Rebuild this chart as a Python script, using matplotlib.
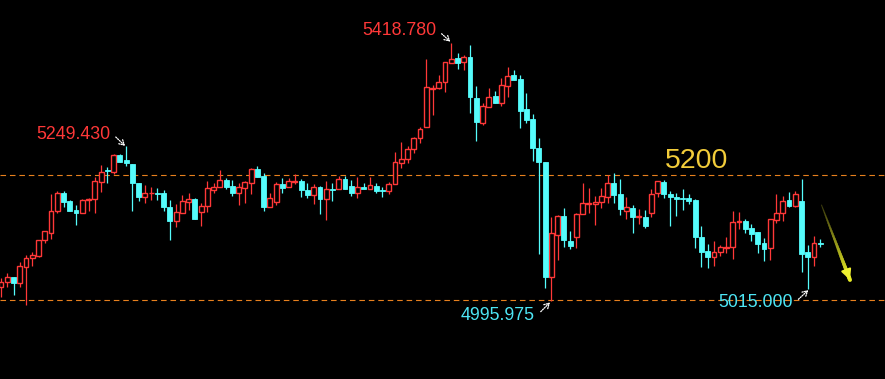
import matplotlib
matplotlib.use("Agg")
import matplotlib.pyplot as plt
import numpy as np
from matplotlib.collections import LineCollection

# ---- data ----
opens = [5019.4, 5027.6, 5035.7, 5024.9, 5052.1, 5065.9, 5069.6, 5095.8, 5106.8, 5143.3,
         5173.2, 5159.7, 5144.9, 5139.5, 5161.3, 5162.4, 5190.3, 5210.4, 5207.6, 5235.0,
         5226.8, 5220.2, 5189.6, 5166.7, 5172.3, 5173.2, 5172.3, 5149.3, 5127.4, 5140.5,
         5158.5, 5162.4, 5142.1, 5152.0, 5177.7, 5182.1, 5194.0, 5184.2, 5173.2, 5181.4,
         5189.6, 5211.6, 5200.6, 5150.3, 5158.5, 5187.5, 5183.1, 5190.8, 5192.4, 5177.7,
         5169.5, 5183.1, 5162.4, 5179.3, 5178.8, 5195.2, 5184.2, 5173.2, 5182.1, 5179.8,
         5184.2, 5177.7, 5176.5, 5187.0, 5222.4, 5227.9, 5244.3, 5262.3, 5280.3, 5343.0,
         5345.1, 5354.0, 5385.1, 5393.3, 5387.7, 5394.9, 5327.8, 5287.8, 5314.0, 5331.5,
         5320.6, 5348.4, 5365.9, 5358.9, 5309.8, 5293.9, 5245.9, 5223.0, 5035.7, 5104.0,
         5135.1, 5094.2, 5100.2, 5137.9, 5154.8, 5154.8, 5158.5, 5166.7, 5188.6, 5170.6,
         5143.8, 5147.7, 5133.0, 5133.0, 5139.5, 5172.3, 5190.3, 5171.6, 5166.2, 5164.6,
         5165.1, 5161.3, 5101.2, 5077.8, 5068.5, 5075.7, 5082.7, 5083.9, 5124.8, 5126.9,
         5115.0, 5108.4, 5090.4, 5082.2, 5128.6, 5139.5, 5161.3, 5152.0, 5159.7, 5075.7,
         5068.5, 5091.4]
highs = [5033.6, 5041.3, 5035.7, 5059.8, 5071.3, 5075.7, 5095.8, 5110.6, 5170.6, 5176.0,
         5176.0, 5161.3, 5153.1, 5162.4, 5164.1, 5199.4, 5218.6, 5214.8, 5236.6, 5236.6,
         5249.43, 5220.2, 5189.6, 5185.9, 5182.1, 5180.5, 5177.7, 5161.3, 5154.3, 5169.5,
         5172.3, 5164.1, 5155.9, 5192.4, 5189.6, 5210.4, 5196.8, 5194.0, 5188.6, 5192.9,
         5213.2, 5217.0, 5206.0, 5173.2, 5190.3, 5196.8, 5196.8, 5203.9, 5195.2, 5189.6,
         5187.5, 5184.2, 5192.4, 5189.6, 5200.6, 5200.6, 5194.0, 5199.4, 5189.6, 5198.5,
         5188.6, 5183.1, 5191.3, 5239.9, 5255.8, 5249.7, 5264.9, 5280.3, 5391.6, 5349.6,
         5365.9, 5387.7, 5418.78, 5401.4, 5398.7, 5415.0, 5347.9, 5320.6, 5344.2, 5339.7,
         5360.5, 5378.5, 5374.1, 5365.9, 5336.0, 5301.6, 5262.3, 5223.0, 5134.0, 5136.7,
         5148.7, 5110.6, 5139.5, 5188.6, 5180.5, 5167.8, 5180.5, 5202.2, 5205.0, 5195.7,
         5166.2, 5153.1, 5146.1, 5144.9, 5178.8, 5192.4, 5194.0, 5176.0, 5173.2, 5179.3,
         5171.1, 5162.4, 5118.7, 5089.3, 5094.2, 5087.6, 5100.2, 5143.3, 5142.1, 5129.7,
         5122.0, 5108.4, 5098.6, 5129.7, 5171.1, 5167.8, 5173.9, 5176.5, 5195.7, 5087.6,
         5102.4, 5097.5]
lows = [5003.0, 5018.4, 5005.8, 5018.4, 4989.4, 5053.3, 5067.5, 5090.4, 5097.5, 5139.5,
        5150.3, 5143.8, 5120.4, 5139.5, 5143.3, 5140.5, 5174.9, 5189.6, 5203.4, 5224.0,
        5217.0, 5143.8, 5159.7, 5155.9, 5161.3, 5161.3, 5143.3, 5095.8, 5117.6, 5140.5,
        5144.9, 5130.2, 5118.7, 5142.1, 5172.3, 5182.1, 5178.8, 5168.3, 5153.1, 5155.9,
        5170.6, 5199.4, 5143.3, 5150.3, 5153.1, 5173.2, 5183.1, 5187.5, 5166.7, 5165.1,
        5154.8, 5138.4, 5128.6, 5159.7, 5178.8, 5179.3, 5167.8, 5164.1, 5179.8, 5179.8,
        5172.3, 5166.7, 5171.1, 5187.0, 5214.2, 5222.4, 5238.7, 5255.1, 5280.3, 5300.4,
        5342.5, 5338.6, 5385.1, 5375.7, 5374.1, 5304.2, 5258.4, 5284.1, 5314.0, 5319.6,
        5315.2, 5330.4, 5357.7, 5278.7, 5287.8, 5225.6, 5072.9, 5016.7, 4995.975, 5063.1,
        5084.9, 5081.1, 5083.2, 5137.9, 5140.5, 5120.4, 5147.7, 5156.9, 5155.9, 5136.7,
        5129.4, 5107.8, 5122.0, 5116.0, 5134.0, 5166.7, 5165.1, 5119.2, 5135.6, 5144.9,
        5154.3, 5082.2, 5052.1, 5050.5, 5053.3, 5070.1, 5074.0, 5064.7, 5113.8, 5107.8,
        5094.2, 5075.0, 5061.9, 5063.1, 5124.1, 5127.4, 5149.3, 5149.3, 5043.9, 5015.0,
        5053.3, 5083.9]
closes = [5027.6, 5035.7, 5024.9, 5053.3, 5066.8, 5071.3, 5095.8, 5110.6, 5143.3, 5173.2,
          5158.5, 5143.8, 5139.5, 5161.3, 5162.9, 5192.4, 5207.6, 5208.3, 5235.0, 5224.0,
          5222.4, 5188.6, 5166.7, 5172.3, 5173.2, 5171.6, 5149.3, 5127.4, 5141.2, 5159.7,
          5162.4, 5130.2, 5151.5, 5180.5, 5182.1, 5194.0, 5183.1, 5173.2, 5182.1, 5190.3,
          5211.6, 5199.4, 5150.3, 5164.1, 5187.0, 5181.4, 5192.4, 5192.4, 5177.7, 5169.5,
          5182.1, 5162.9, 5178.8, 5177.7, 5195.2, 5179.3, 5173.2, 5182.1, 5179.8, 5185.4,
          5176.5, 5176.0, 5187.5, 5223.0, 5227.9, 5244.3, 5262.3, 5277.0, 5345.8, 5345.1,
          5354.0, 5386.7, 5391.6, 5386.1, 5394.9, 5330.4, 5289.5, 5315.2, 5330.4, 5319.6,
          5349.6, 5364.3, 5357.7, 5307.5, 5292.3, 5246.9, 5224.0, 5035.7, 5106.8, 5135.1,
          5095.8, 5086.0, 5138.4, 5155.9, 5156.9, 5158.5, 5167.8, 5188.6, 5169.5, 5146.1,
          5149.3, 5132.7, 5135.1, 5119.2, 5171.1, 5192.4, 5170.6, 5166.7, 5162.9, 5162.9,
          5159.7, 5101.2, 5076.7, 5068.5, 5075.7, 5083.9, 5083.9, 5124.8, 5126.4, 5113.8,
          5105.6, 5088.8, 5081.1, 5129.7, 5139.5, 5159.7, 5151.5, 5171.1, 5072.9, 5068.5,
          5090.4, 5088.8]

line_upper = 5202.0
line_lower = 4997.6
marks = [("5418.780", 5418.78), ("5249.430", 5249.43), ("4995.975", 4995.975), ("5015.000", 5015.0)]

# ---- drawing ----
RED = "#FF3838"
CYAN = "#55FCFC"
BG = "black"

fig = plt.figure(figsize=(8.85, 3.79), dpi=100, facecolor=BG)
ax = fig.add_axes([0, 0, 1, 1])
ax.set_facecolor(BG)
ax.set_xlim(-0.16, 141.35)
ax.set_ylim(4868.3, 5488.7)
ax.axis("off")

n = len(opens)
xs = np.arange(n)
o = np.array(opens); h = np.array(highs); l = np.array(lows); c = np.array(closes)
up = c >= o
wick_colors = [RED if u else CYAN for u in up]
ax.vlines(xs, l, h, colors=wick_colors, linewidth=0.9, zorder=2)

w = 0.78
minh = 1.0
bottoms = np.minimum(o, c)
heights = np.maximum(np.abs(c - o), minh)
ax.bar(xs[up], heights[up], bottom=bottoms[up], width=w, facecolor=BG,
       edgecolor=RED, linewidth=1.0, zorder=3)
ax.bar(xs[~up], heights[~up], bottom=bottoms[~up], width=w, facecolor=CYAN,
       edgecolor=CYAN, linewidth=0.6, zorder=3)

# dashed horizontal levels
for yv in (line_upper, line_lower):
    ax.axhline(yv, color="#E8801E", linewidth=0.8, linestyle=(0, (5, 3.5)), zorder=1)

# labels with small dotted arrows
lab_font = dict(fontsize=12.8, family=["Liberation Sans", "DejaVu Sans"])
label_specs = [
    # text, value, color, text pos (x, y), arrow tail (x, y), arrow head (x, y)
    (marks[0], RED, (69.6, 5438.0), (70.45, 5433.5), (71.85, 5420.5)),
    (marks[1], RED, (17.45, 5268.5), (18.35, 5264.4), (19.85, 5249.8)),
    (marks[2], "#4DE6F5", (85.4, 4973.0), (86.3, 4978.5), (87.8, 4993.8)),
    (marks[3], "#4DE6F5", (126.6, 4993.2), (127.5, 4998.7), (129.1, 5014.0)),
]
for (txt, val), col, tpos, tail, head in label_specs:
    ax.text(tpos[0], tpos[1], txt, color=col, ha="right", va="center", zorder=5, **lab_font)
    ax.annotate("", xy=head, xytext=tail,
                arrowprops=dict(arrowstyle="->,head_length=0.35,head_width=0.2",
                                color="white", lw=0.9, linestyle=(0, (1, 1)),
                                shrinkA=0, shrinkB=0), zorder=5)

ax.text(106.2, 5213.5, "5200", color="#F2CC3A", fontsize=20.5, ha="left", va="baseline",
        family=["Liberation Sans", "DejaVu Sans"], zorder=5)

# yellow gradient arrow
x0, y0, x1, y1 = 131.2, 5153.0, 135.75, 5030.5
t = np.linspace(0, 1, 30)
px = x0 + (x1 - x0) * t
py = y0 + (y1 - y0) * t
segs = [[(px[i], py[i]), (px[i + 1], py[i + 1])] for i in range(len(t) - 1)]
cols = []
for tt in t[:-1]:
    r = 0.22 + (0.93 - 0.22) * tt
    g = 0.22 + (0.95 - 0.22) * tt
    b = 0.05 + (0.15 - 0.05) * tt
    cols.append((r, g, b))
lws = 0.8 + 2.2 * t[:-1]
ax.add_collection(LineCollection(segs, colors=cols, linewidths=lws, zorder=4,
                                 capstyle="round"))
ax.annotate("", xy=(x1, y1), xytext=(x0 + (x1 - x0) * 0.88, y0 + (y1 - y0) * 0.88),
            arrowprops=dict(arrowstyle="-|>,head_length=0.6,head_width=0.3",
                            color="#EEF030", lw=1.5, shrinkA=0, shrinkB=0), zorder=4)

fig.savefig("out.png", dpi=100, facecolor=BG)
